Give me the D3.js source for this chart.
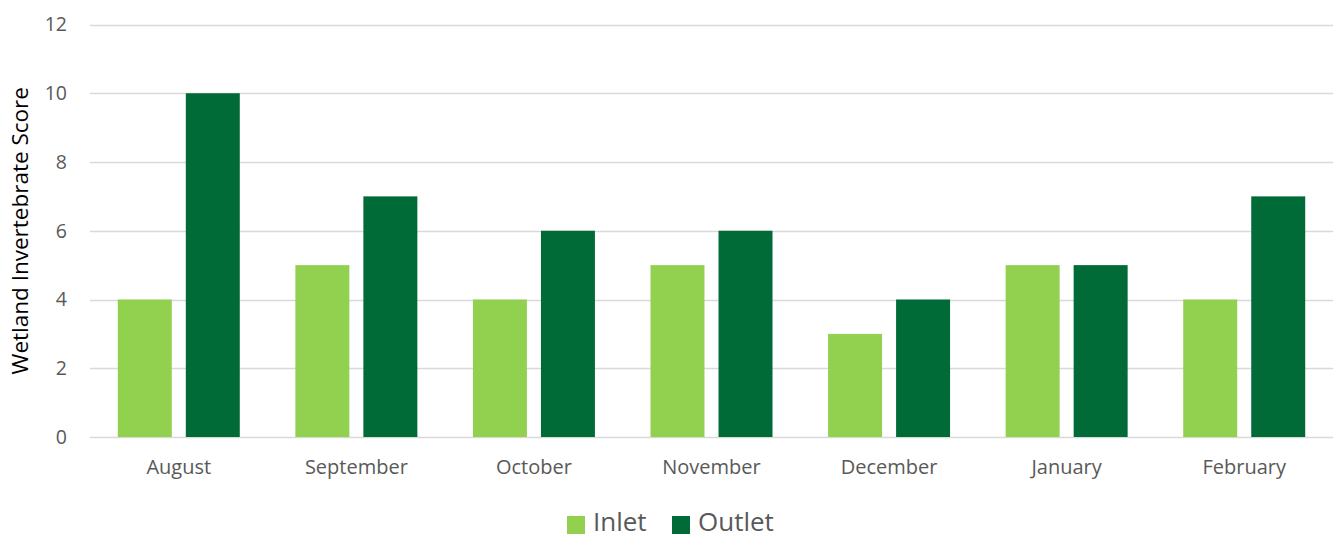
<!DOCTYPE html>
<html>
<head>
<meta charset="utf-8">
<script src="https://cdn.jsdelivr.net/npm/d3@7"></script>
<style>
  html, body { margin: 0; padding: 0; background: #fff; }
  svg { display: block; }
  text { font-family: "Open Sans", "Liberation Sans", sans-serif; }
</style>
</head>
<body>
<svg id="chart" width="1340" height="539"></svg>
<script>
// Monthly wetland invertebrate scores at inlet and outlet
const months = ["August", "September", "October", "November", "December", "January", "February"];
const inletScores = [4, 5, 4, 5, 3, 5, 4];
const outletScores = [10, 7, 6, 6, 4, 5, 7];
const yTicks = [0, 2, 4, 6, 8, 10, 12];
const seriesNames = ["Inlet", "Outlet"];
const seriesColors = ["#92d050", "#006b36"];

const svg = d3.select("#chart");
const plotLeft = 90, plotRight = 1333, plotTop = 24.5, plotBottom = 437;

const x = d3.scaleBand().domain(months).range([plotLeft, plotRight]).padding(0);
const y = d3.scaleLinear().domain([0, 12]).range([plotBottom, plotTop]);

// bar geometry inside each category (gap width ~103%, overlap ~-26%)
const bw = x.bandwidth();
const barW = bw * 0.304;
const gap = barW * 0.26;
const groupW = barW * 2 + gap;
const sub = d3.scaleOrdinal().domain(seriesNames).range([(bw - groupW) / 2, (bw - groupW) / 2 + barW + gap]);

// gridlines
svg.append("g")
  .selectAll("line")
  .data(yTicks)
  .join("line")
  .attr("x1", plotLeft).attr("x2", plotRight)
  .attr("y1", d => Math.round(y(d)) + 0.5).attr("y2", d => Math.round(y(d)) + 0.5)
  .attr("stroke", "#d9d9d9").attr("stroke-width", 1.5);

// y tick labels
svg.append("g")
  .selectAll("text")
  .data(yTicks)
  .join("text")
  .attr("x", 67).attr("y", d => y(d))
  .attr("dy", "0.35em")
  .attr("text-anchor", "end")
  .attr("font-size", 19.5)
  .attr("fill", "#595959")
  .text(d => d);

// bars
const rows = months.map((m, i) => ({ month: m, values: [inletScores[i], outletScores[i]] }));
const groups = svg.append("g")
  .selectAll("g")
  .data(rows)
  .join("g")
  .attr("transform", d => `translate(${x(d.month)},0)`);

groups.selectAll("rect")
  .data(d => d.values.map((v, j) => ({ name: seriesNames[j], value: v, color: seriesColors[j] })))
  .join("rect")
  .attr("x", d => sub(d.name))
  .attr("width", barW)
  .attr("y", d => y(d.value))
  .attr("height", d => y(0) - y(d.value))
  .attr("fill", d => d.color);

// x category labels
svg.append("g")
  .selectAll("text")
  .data(months)
  .join("text")
  .attr("x", d => x(d) + bw / 2)
  .attr("y", 474)
  .attr("text-anchor", "middle")
  .attr("font-size", 20)
  .attr("fill", "#595959")
  .text(d => d);

// y axis title
svg.append("text")
  .attr("transform", `translate(28,${(plotTop + plotBottom) / 2}) rotate(-90)`)
  .attr("text-anchor", "middle")
  .attr("font-size", 22.5)
  .attr("fill", "#000")
  .text("Wetland Invertebrate Score");

// legend
const legend = svg.append("g");
const legendItems = [
  { name: seriesNames[0], color: seriesColors[0], x: 567 },
  { name: seriesNames[1], color: seriesColors[1], x: 672 }
];
legendItems.forEach(it => {
  legend.append("rect")
    .attr("x", it.x).attr("y", 516).attr("width", 18).attr("height", 18)
    .attr("fill", it.color);
  legend.append("text")
    .attr("x", it.x + 26).attr("y", 531)
    .attr("font-size", 26)
    .attr("fill", "#595959")
    .text(it.name);
});
</script>
</body>
</html>
